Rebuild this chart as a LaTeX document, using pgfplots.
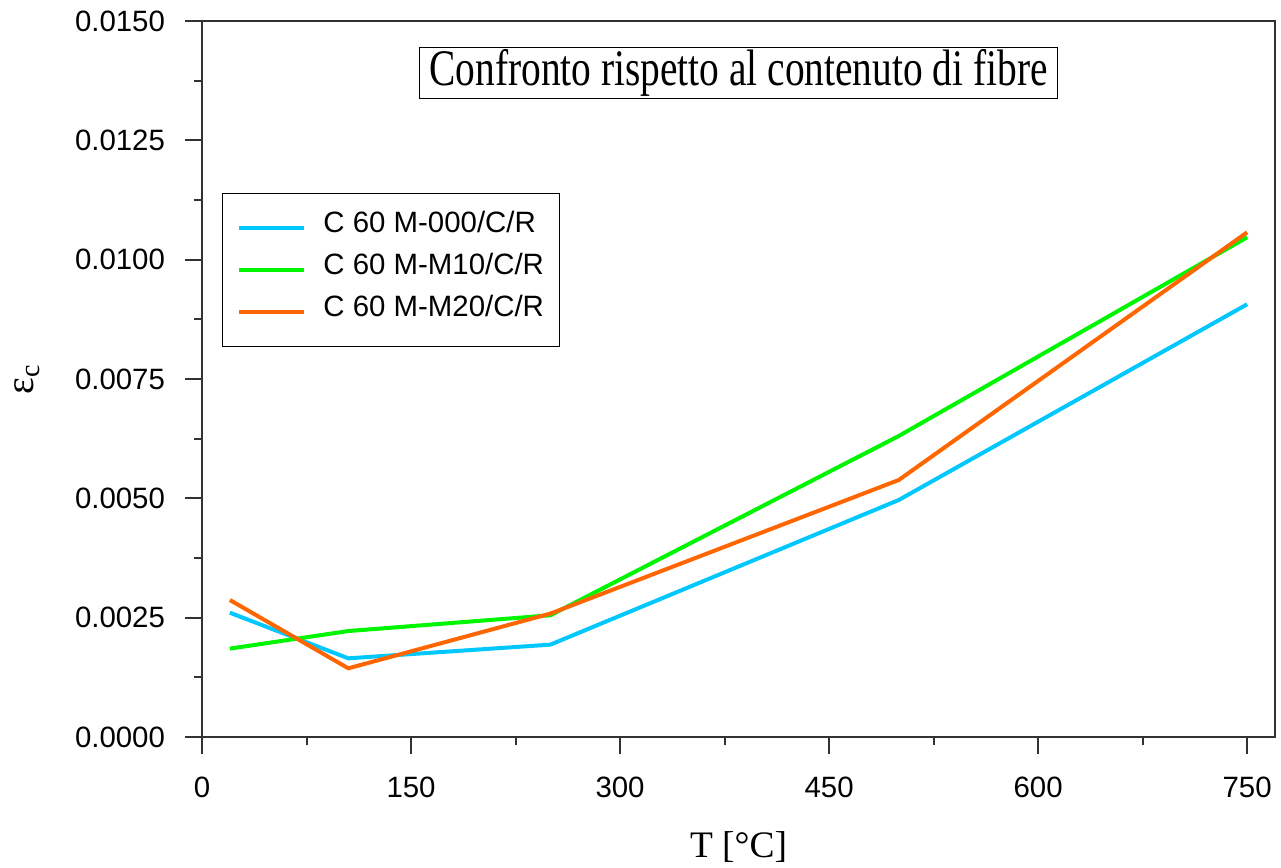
\documentclass[border=0pt]{standalone}
\usepackage{pgfplots}
\pgfplotsset{compat=1.18}
\usepackage{fontspec}
\usepackage{graphicx}
\setmainfont{Liberation Sans}
\newfontfamily\seriffont{Liberation Serif}
\usetikzlibrary{calc}

\definecolor{cblue}{RGB}{0,200,255}
\definecolor{cgreen}{RGB}{0,245,0}
\definecolor{corange}{RGB}{255,102,0}
\definecolor{axisgray}{RGB}{50,50,50}

\begin{document}
\begin{tikzpicture}
\begin{axis}[
  scale only axis,
  width=536.5pt, height=358pt,
  xmin=0, xmax=770, ymin=0, ymax=0.015,
  axis line style={axisgray, line width=1pt},
  tick pos=left,
  tick align=outside,
  major tick length=8.5pt,
  minor tick length=4pt,
  tick style={axisgray, line width=1pt},
  xtick={0,150,300,450,600,750},
  minor xtick={75,225,375,525,675},
  ytick={0,0.0025,0.005,0.0075,0.01,0.0125,0.015},
  minor ytick={0.00125,0.00375,0.00625,0.00875,0.01125,0.01375},
  scaled y ticks=false,
  /pgf/number format/assume math mode=true,
  ticklabel style={font=\fontsize{14.7}{17}\selectfont},
  xticklabel style={yshift=-8pt},
  yticklabel style={xshift=-6.5pt,
                    /pgf/number format/fixed,
                    /pgf/number format/fixed zerofill,
                    /pgf/number format/precision=4},
  xlabel={\seriffont\fontsize{18.7}{22}\selectfont T [°C]},
  xlabel style={at={(axis description cs:0.5,-0.1676)}, anchor=base},
  ylabel={\seriffont\fontsize{20}{24}\selectfont ε\textsubscript{c}},
  ylabel style={at={(axis description cs:-0.163,0.5)}, anchor=center, inner sep=1pt},
  legend cell align=left,
  legend image code/.code={\draw[#1] (0pt,0pt) -- (32.5pt,0pt);},
  legend style={at={(rel axis cs:0.0186,0.7598)}, anchor=north west,
                draw=black, line width=0.5pt,
                font=\fontsize{14.7}{17}\selectfont,
                inner xsep=7.5pt, inner ysep=6.75pt,
                column sep=8.5pt, row sep=0pt,
                nodes={inner sep=0pt, text height=13pt, text depth=8pt}},
]
\addplot[cblue, line width=2pt] coordinates {
  (20,0.002604) (105,0.001648) (250,0.001935) (500,0.004965) (750,0.009065)};
\addlegendentry{C 60 M-000/C/R}
\addplot[cgreen, line width=2pt] coordinates {
  (20,0.001852) (105,0.00222) (250,0.00255) (500,0.006306) (750,0.010468)};
\addlegendentry{C 60 M-M10/C/R}
\addplot[corange, line width=2pt] coordinates {
  (20,0.00287) (105,0.001439) (250,0.002585) (500,0.005384) (750,0.010573)};
\addlegendentry{C 60 M-M20/C/R}

\node[draw=black, line width=0.5pt, fill=white, minimum width=318.5pt,
      minimum height=25.5pt, inner sep=0pt] at (rel axis cs:0.5,0.928)
  {\seriffont\scalebox{1}[1.3]{\fontsize{19.7}{22}\selectfont Confronto rispetto al contenuto di fibre}};
\end{axis}
\pgfresetboundingbox
\path ($(current axis.south west)+(-101pt,-65pt)$) rectangle ($(current axis.north east)+(3pt,10.5pt)$);
\end{tikzpicture}
\end{document}
